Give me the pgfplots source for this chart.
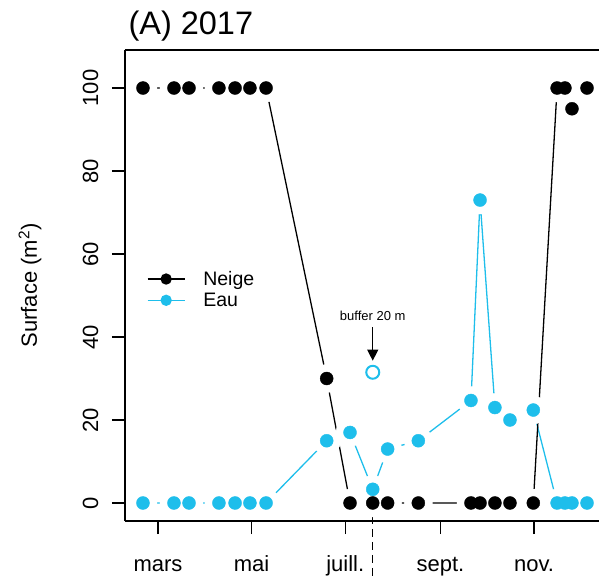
\documentclass[border=0pt]{standalone}
\usepackage{fontspec}
\setmainfont{Liberation Sans}
\usepackage{pgfplots}
\pgfplotsset{compat=1.18}
\usepackage{pgfplotstable}
\usetikzlibrary{calc,arrows.meta}
\definecolor{eau}{RGB}{30,190,235}

\pgfplotstableread{
d     neige  eau
50.2  100    0
70.4  100    0
80.2  100    0
99.7  100    0
110.2 100    0
119.9 100    0
130.4 100    0
169.9 30     15
185.1 0      17
199.9 0      3.3
209.6 0      13
229.6 0      15
263.9 0      24.7
269.8 0      73
279.5 0      23
289.3 0      20
304.5 0      22.4
320.0 100    0
325.1 100    0
329.7 95     0
339.5 100    0
}\surf

\begin{document}
\begin{tikzpicture}
\begin{axis}[
  scale only axis,
  width=474pt, height=471pt,
  xmin=38.5, xmax=347.3,
  ymin=-4.34, ymax=109.16,
  clip=false,
  axis x line*=bottom, axis y line*=left,
  axis line style={-, line width=1.2pt},
  every tick/.style={black, line width=1.2pt},
  tick align=outside,
  major tick length=13pt,
  xtick={60,121,182,244,305},
  xticklabels={mars,mai,juill.,sept.,nov.},
  ytick={0,20,40,60,80,100},
  yticklabel style={rotate=90, anchor=south},
  yticklabel shift=10pt,
  /pgf/number format/assume math mode=true,
  tick label style={font=\fontsize{22}{22}\selectfont},
  xticklabel style={anchor=base, yshift=-37.5pt},
  ylabel={Surface (m\textsuperscript{2})},
  every axis y label/.style={at={(-0.2004,0.5)}, anchor=center, rotate=90, font=\fontsize{22}{22}\selectfont},
  title={(A) 2017},
  title style={at={(0,1)}, anchor=base west, xshift=0pt, yshift=9pt, font=\fontsize{32.5}{32.5}\selectfont},
  legend style={draw=none, fill=none, inner sep=0pt, at={(0.046,0.535)}, anchor=north west,
    font=\fontsize{19.5}{19.5}\selectfont, row sep=2pt,
    /tikz/every odd column/.append style={column sep=16pt}},
  legend cell align=left,
  legend image code/.code={\draw[mark repeat=2,mark phase=2,#1] plot coordinates {(0pt,0pt) (18.5pt,0pt) (37pt,0pt)};},
]
\coordinate (bl) at (rel axis cs:0,0);
\coordinate (tl) at (rel axis cs:0,1);
\draw[line width=1.2pt] (rel axis cs:0,1) -- (rel axis cs:1,1);

\addlegendimage{black, line width=1.3pt, mark=*, mark size=5pt}
\addlegendentry{Neige}
\addlegendimage{eau, line width=1.3pt, mark=*, mark size=5pt, mark options={fill=eau, draw=eau}}
\addlegendentry{Eau}

% Eau line with gaps
\addplot[eau, line width=1.3pt, no marks, forget plot] table[x=d, y=eau] {\surf};
\addplot[white, only marks, mark=*, mark size=14pt, forget plot] table[x=d, y=eau] {\surf};
% Neige line with gaps
\addplot[black, line width=1.3pt, no marks, forget plot] table[x=d, y=neige] {\surf};
\addplot[white, only marks, mark=*, mark size=14pt, forget plot] table[x=d, y=neige] {\surf};
% marks
\addplot[black, only marks, mark=*, mark size=6.5pt, forget plot] table[x=d, y=neige] {\surf};
\addplot[eau, only marks, mark=*, mark size=6.5pt, forget plot] table[x=d, y=eau] {\surf};
% buffer 20 m
\addplot[eau, only marks, mark=o, mark size=6.5pt, mark options={line width=2pt}, forget plot] coordinates {(199.9,31.5)};
\draw[line width=1.3pt, -{Triangle[length=11pt, width=11pt]}] (axis cs:199.9,42.3) -- (axis cs:199.9,34.3);
\node[anchor=base, font=\fontsize{13}{13}\selectfont] at (axis cs:199.9,44.0) {buffer 20 m};
\draw[line width=1.3pt, dash pattern=on 8pt off 5pt] (axis cs:199.9,0) -- (axis cs:199.9,-18.3);
\end{axis}
\pgfresetboundingbox
\path ($(bl)+(-125pt,-58pt)$) rectangle ($(tl)+(474pt,50pt)$);
\end{tikzpicture}
\end{document}
